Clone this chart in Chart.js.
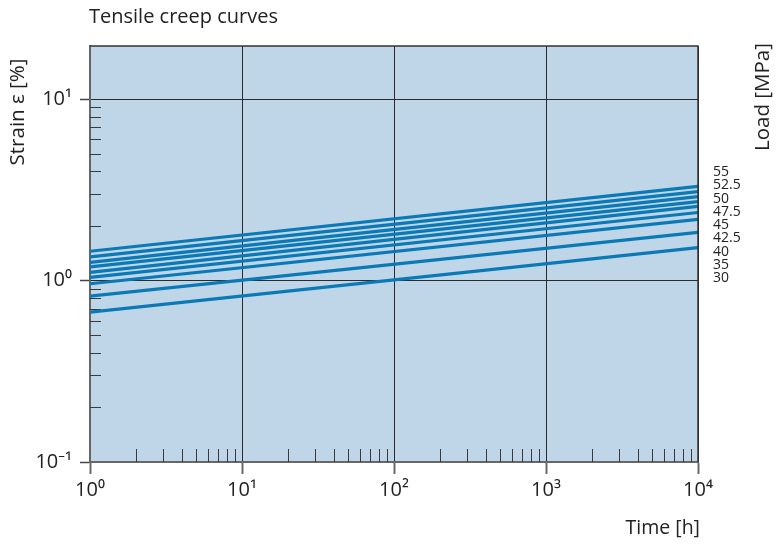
<!DOCTYPE html>
<html>
<head>
<meta charset="utf-8">
<script src="https://cdn.jsdelivr.net/npm/chart.js@4/dist/chart.umd.min.js"></script>
<style>
  html, body { margin: 0; padding: 0; background: #fff; }
  #wrap { width: 776px; height: 546px; }
</style>
</head>
<body>
<div id="wrap"><canvas id="creep" width="776" height="546"></canvas></div>
<script>
// Strain [%] at start and end of the time range, one entry per load level
const times = [1, 10000];
const loads = ["55", "52.5", "50", "47.5", "45", "42.5", "40", "35", "30"];
const strainStart = [1.45, 1.35, 1.26, 1.19, 1.11, 1.04, 0.96, 0.82, 0.67];
const strainEnd = [3.30, 3.09, 2.90, 2.72, 2.56, 2.37, 2.17, 1.84, 1.52];

const FONT = "'Open Sans', 'Noto Sans', sans-serif";
const LINE_BLUE = "#0a79b6";
const PLOT_BG = "#bed6e8";
const SUP = { "-": "\u207b", "0": "\u2070", "1": "\u00b9", "2": "\u00b2", "3": "\u00b3", "4": "\u2074" };

const isDecade = (v) => {
	const e = Math.log10(v);
	return Math.abs(e - Math.round(e)) < 1e-9;
};
// 2..9 times a power of ten
const isMinor = (v) => {
	const m = v / Math.pow(10, Math.floor(Math.log10(v) + 1e-9));
	return Math.abs(m - Math.round(m)) < 1e-6 && Math.round(m) >= 2 && Math.round(m) <= 9;
};
const powerLabel = (v) =>
	"10" + String(Math.round(Math.log10(v))).split("").map((c) => SUP[c]).join("");

const datasets = loads.map((load, i) => ({
	label: load,
	data: times.map((t, k) => ({ x: t, y: k === 0 ? strainStart[i] : strainEnd[i] })),
	borderColor: LINE_BLUE,
	borderWidth: 3.2,
	pointRadius: 0,
	tension: 0,
}));

// background, inner minor ticks, frame and free-standing labels
const creepDecor = {
	id: "creepDecor",
	beforeDraw(chart) {
		const { ctx, chartArea: a } = chart;
		ctx.save();
		ctx.fillStyle = PLOT_BG;
		ctx.fillRect(a.left, a.top, a.right - a.left, a.bottom - a.top);
		ctx.restore();
	},
	beforeDatasetsDraw(chart) {
		const { ctx, chartArea: a, scales } = chart;
		ctx.save();
		ctx.strokeStyle = "#3a3a3a";
		ctx.lineWidth = 1;
		ctx.beginPath();
		scales.x.ticks.forEach((t) => {
			if (!isMinor(t.value)) return;
			const px = Math.round(scales.x.getPixelForValue(t.value)) + 0.5;
			ctx.moveTo(px, a.bottom);
			ctx.lineTo(px, a.bottom - 13);
		});
		scales.y.ticks.forEach((t) => {
			if (!isMinor(t.value) || t.value > 10) return;
			const py = Math.round(scales.y.getPixelForValue(t.value)) + 0.5;
			ctx.moveTo(a.left, py);
			ctx.lineTo(a.left + 11, py);
		});
		ctx.stroke();
		ctx.restore();
	},
	afterDraw(chart) {
		const { ctx, chartArea: a } = chart;
		ctx.save();
		ctx.strokeStyle = "#333";
		ctx.lineWidth = 1.5;
		ctx.beginPath();
		ctx.moveTo(a.left, a.top);
		ctx.lineTo(a.right, a.top);
		ctx.lineTo(a.right, a.bottom);
		ctx.stroke();

		ctx.fillStyle = "#222";
		ctx.textBaseline = "middle";
		ctx.font = `20px ${FONT}`;
		ctx.textAlign = "left";
		ctx.fillText("Tensile creep curves", 89, 17);
		ctx.font = `19.5px ${FONT}`;
		ctx.textAlign = "right";
		ctx.fillText("Time [h]", 700, 528);

		ctx.font = `20.5px ${FONT}`;
		ctx.save();
		ctx.translate(18, 112);
		ctx.rotate(-Math.PI / 2);
		ctx.textAlign = "center";
		ctx.fillText("Strain \u03b5 [%]", 0, 0);
		ctx.restore();

		ctx.save();
		ctx.translate(763, 97);
		ctx.rotate(-Math.PI / 2);
		ctx.textAlign = "center";
		ctx.fillText("Load [MPa]", 0, 0);
		ctx.restore();

		ctx.font = `14px ${FONT}`;
		ctx.textAlign = "left";
		loads.forEach((l, i) => ctx.fillText(l, 713, 172 + i * 13.3));
		ctx.restore();
	},
};

new Chart(document.getElementById("creep"), {
	type: "line",
	data: { datasets },
	plugins: [creepDecor],
	options: {
		responsive: false,
		animation: false,
		devicePixelRatio: 1,
		layout: { padding: { top: 46, right: 78, left: 0, bottom: 0 } },
		plugins: {
			legend: { display: false },
			tooltip: { enabled: false },
		},
		scales: {
			x: {
				type: "logarithmic",
				min: 1,
				max: 10000,
				afterFit: (s) => { s.height = 84; },
				border: { color: "#666", width: 2 },
				grid: {
					color: (c) => (c.tick && isDecade(c.tick.value) ? "#2b2b2b" : "transparent"),
					tickColor: (c) => (c.tick && isDecade(c.tick.value) ? "#6a6a6a" : "transparent"),
					tickLength: 12,
					tickWidth: 2,
				},
				ticks: {
					autoSkip: false,
					maxRotation: 0,
					padding: 4,
					color: "#222",
					font: { family: FONT, size: 20 },
					callback: (v) => (isDecade(v) ? powerLabel(v) : ""),
				},
			},
			y: {
				type: "logarithmic",
				min: 0.1,
				max: 19.6,
				afterFit: (s) => { s.width = 90; },
				border: { color: "#666", width: 2 },
				grid: {
					color: (c) => (c.tick && isDecade(c.tick.value) ? "#2b2b2b" : "transparent"),
					tickColor: (c) => (c.tick && isDecade(c.tick.value) ? "#444" : "transparent"),
					tickLength: 10,
					tickWidth: 1.5,
				},
				ticks: {
					autoSkip: false,
					padding: 8,
					color: "#222",
					font: { family: FONT, size: 20 },
					callback: (v) => (isDecade(v) ? powerLabel(v) : ""),
				},
			},
		},
	},
});
</script>
</body>
</html>
